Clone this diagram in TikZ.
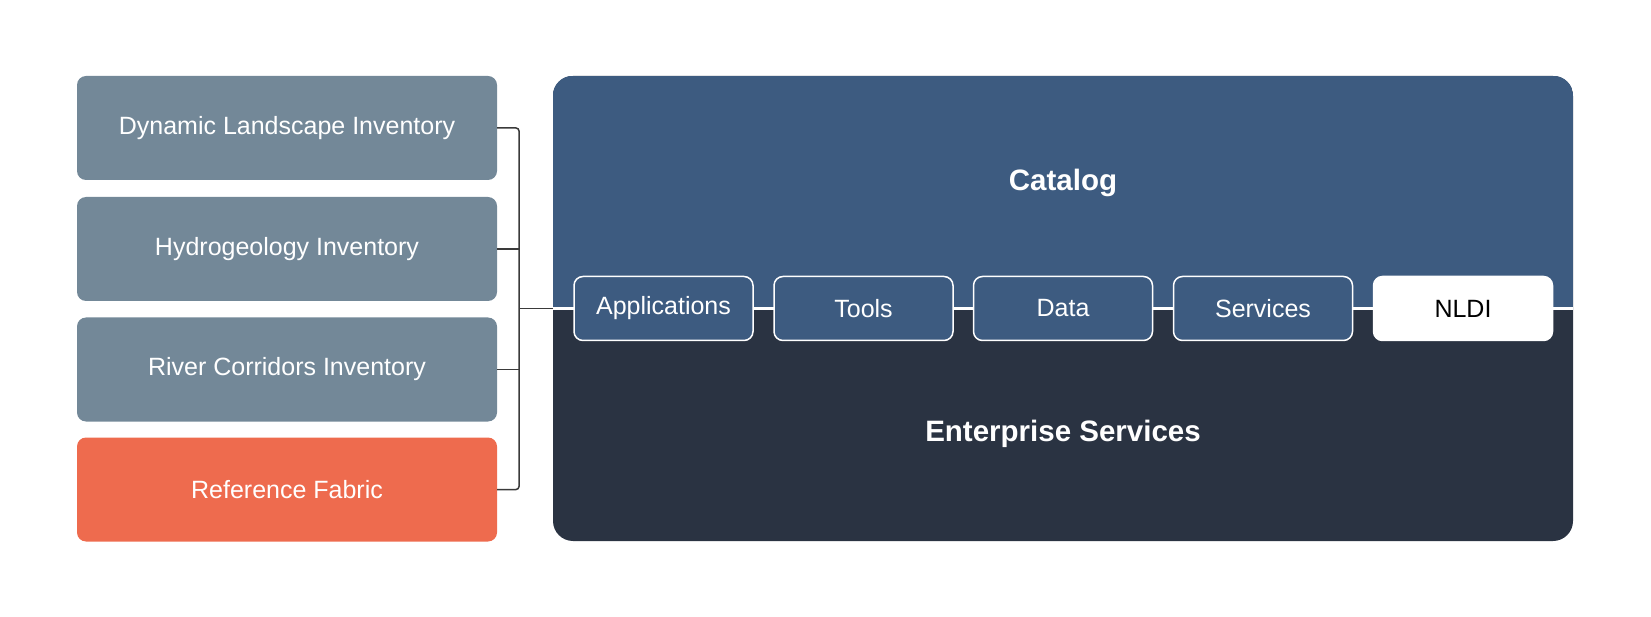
\documentclass[tikz,border=0pt]{standalone}
\usepackage{fontspec}
\setmainfont{Liberation Sans}
\definecolor{invgray}{HTML}{738898}
\definecolor{refor}{HTML}{EE6B4E}
\definecolor{catblue}{HTML}{3D5B80}
\definecolor{entdark}{HTML}{2A3342}
\definecolor{linegray}{HTML}{3A3A3A}
\begin{document}
\begin{tikzpicture}[x=1pt,y=-1pt,
  leftbox/.style={rectangle, rounded corners=9pt, minimum width=420pt, minimum height=104pt, inner sep=0pt, text=white, font=\fontsize{25}{30}\selectfont},
  smallbox/.style={rectangle, rounded corners=9pt, minimum width=179pt, minimum height=64pt, inner sep=0pt, draw=white, line width=1.5pt, fill=catblue, text=white, font=\fontsize{25}{30}\selectfont},
  bigtext/.style={text=white, font=\bfseries\fontsize{29.5}{34}\selectfont},
  conn/.style={draw=linegray, line width=1.5pt, rounded corners=3pt}
]
\useasboundingbox (0,0) rectangle (1651,617);
% left boxes
\node[leftbox, fill=invgray] (dli) at (287,128) {Dynamic Landscape Inventory};
\node[leftbox, fill=invgray] (hgi) at (287,249) {Hydrogeology Inventory};
\node[leftbox, fill=invgray] (rci) at (287,369.5) {River Corridors Inventory};
\node[leftbox, fill=refor] (rf) at (287,489.5) {Reference Fabric};
% main box
\node[rectangle, rounded corners=20pt, minimum width=1020pt, minimum height=465pt, inner sep=0pt, fill=entdark] (main) at (1063,308.5) {};
\begin{scope}
  \clip[rounded corners=20pt] (main.north west) rectangle (main.south east);
  \fill[catblue] (main.north west) rectangle (main.east);
\end{scope}
\draw[white, line width=3pt] (main.west) -- (main.east);
\node[bigtext] (cat) at (1063,183) {Catalog};
\node[bigtext] (ent) at (1063,434) {Enterprise Services};
% small boxes
\node[smallbox] (app) at (663.5,308.5) {Applications};
\node[smallbox] (tools) at (863.5,308.5) {Tools};
\node[smallbox] (data) at (1063,308.5) {Data};
\node[smallbox] (serv) at (1263,308.5) {Services};
\node[smallbox, fill=white, draw=white, text=black] (nldi) at (1463,308.5) {NLDI};
% connectors
\coordinate (bus) at (519,308.5);
\draw[conn] (dli.east) -| (bus) |- (rf.east);
\draw[conn] (hgi.east) -- (hgi.east -| bus);
\draw[conn] (rci.east) -- (rci.east -| bus);
\draw[conn] (bus) -- (main.west);
\end{tikzpicture}
\end{document}
